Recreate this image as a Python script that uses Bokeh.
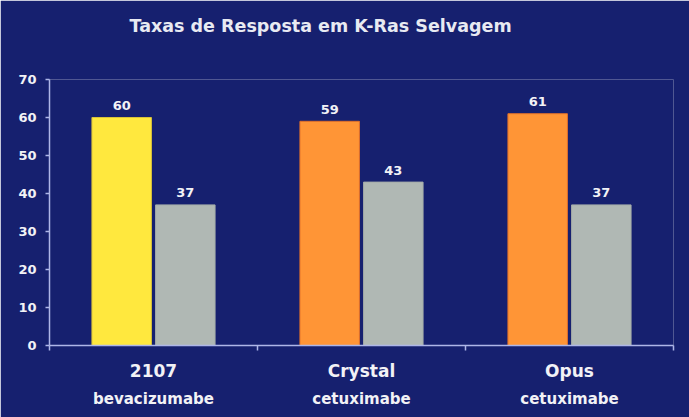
from bokeh.plotting import figure
from bokeh.models import Range1d, FixedTicker, LinearAxis, ColumnDataSource, Title
from bokeh.transform import dodge
from bokeh.core.properties import value
from bokeh.embed import file_html
from bokeh.resources import INLINE

# ---- data ----
title_text = "Taxas de Resposta em K-Ras Selvagem"
studies = ["2107", "Crystal", "Opus"]
drugs = ["bevacizumabe", "cetuximabe", "cetuximabe"]
rate_targeted = [60, 59, 61]
rate_control = [37, 43, 37]
targeted_colors = ["#FFE83E", "#FF9536", "#FF9536"]
targeted_edges = ["#D9C23A", "#E0702A", "#E0702A"]
control_color = "#B0B8B4"
y_ticks = [0, 10, 20, 30, 40, 50, 60, 70]

# ---- styling ----
NAVY = "#16206F"
AXIS = "#AEB6E8"
TXT = "#F2F2F6"
FONT = "DejaVu Sans"
OFF = 0.153
BAR_W = 0.286

pos = [i + 0.5 for i in range(len(studies))]
src = ColumnDataSource(dict(
    x=pos,
    a=rate_targeted,
    b=rate_control,
    a_lbl=[str(v) for v in rate_targeted],
    b_lbl=[str(v) for v in rate_control],
    color=targeted_colors,
    edge=targeted_edges,
))

p = figure(width=689, height=417, title=None,
           x_range=Range1d(0, len(studies)), y_range=Range1d(0, 70),
           output_backend="svg", toolbar_location=None,
           x_axis_location=None, y_axis_location="left",
           min_border_left=49, min_border_right=16,
           min_border_top=79, min_border_bottom=72,
           background_fill_color=NAVY, border_fill_color=NAVY,
           outline_line_color=None)
p.grid.visible = False

# spacer between title and plot frame (closest to the frame)
p.add_layout(Title(text=" ", text_font_size="1px", standoff=36), "above")
# title
p.add_layout(Title(
    text=title_text, align="left", offset=80, standoff=10,
    text_font=FONT, text_font_size="17.5px", text_font_style="bold",
    text_color="#E8EAF2",
), "above")

# y axis
ya = p.yaxis[0]
ya.ticker = FixedTicker(ticks=y_ticks, minor_ticks=[])
ya.axis_line_color = AXIS
ya.axis_line_width = 1.5
ya.major_tick_line_color = AXIS
ya.major_tick_line_width = 1.5
ya.major_tick_out = 4
ya.major_tick_in = 0
ya.minor_tick_line_color = None
ya.major_label_standoff = 9
ya.major_label_text_font = FONT
ya.major_label_text_font_size = "13px"
ya.major_label_text_font_style = "bold"
ya.major_label_text_color = TXT

# x axis: study names, with group boundaries as minor ticks
ax1 = LinearAxis(
    ticker=FixedTicker(ticks=pos, minor_ticks=list(range(len(studies) + 1))),
    major_label_overrides={x: s for x, s in zip(pos, studies)},
    axis_line_color=AXIS, axis_line_width=1.5,
    major_tick_line_color=None, major_tick_out=0, major_tick_in=0,
    minor_tick_line_color=AXIS, minor_tick_line_width=1.5,
    minor_tick_out=5, minor_tick_in=0,
    major_label_standoff=10,
    major_label_text_font=FONT, major_label_text_font_size="17px",
    major_label_text_font_style="bold", major_label_text_color=TXT,
)
p.add_layout(ax1, "below")

# second line: drug names
ax2 = LinearAxis(
    ticker=FixedTicker(ticks=pos, minor_ticks=[]),
    major_label_overrides={x: d for x, d in zip(pos, drugs)},
    axis_line_color=None, major_tick_line_color=None, minor_tick_line_color=None,
    major_tick_out=0, major_tick_in=0,
    major_label_standoff=6,
    major_label_text_font=FONT, major_label_text_font_size="15px",
    major_label_text_font_style="bold", major_label_text_color=TXT,
)
p.add_layout(ax2, "below")

# bars
p.vbar(x=dodge("x", -OFF, range=p.x_range), top="a", width=BAR_W, bottom=0,
       fill_color="color", line_color="edge", line_width=1, source=src)
p.vbar(x=dodge("x", OFF, range=p.x_range), top="b", width=BAR_W, bottom=0,
       fill_color=control_color, line_color="#A4ACA8", line_width=1, source=src)

# value labels
for col, lbl, off in (("a", "a_lbl", -OFF), ("b", "b_lbl", OFF)):
    p.text(x=dodge("x", off, range=p.x_range), y=col, text=lbl,
           text_align="center", text_baseline="alphabetic", y_offset=-12,
           text_font=value(FONT), text_font_style="bold", text_font_size="13px",
           text_color=TXT, source=src)

open("out.html", "w").write(file_html(p, INLINE))
